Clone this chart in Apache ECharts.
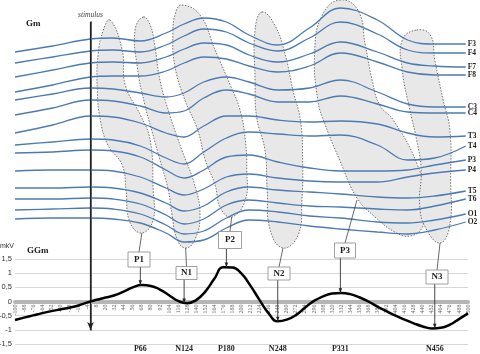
<!DOCTYPE html>
<html><head><meta charset="utf-8">
<script src="https://cdn.jsdelivr.net/npm/echarts@6/dist/echarts.min.js"></script>
<style>html,body{margin:0;padding:0;background:#fff}#c{width:480px;height:354px}</style>
</head><body><div id="c"></div>
<script>
// ---------- GGm (bottom panel) ----------
const timeLabels = ['-100','-88','-76','-64','-52','-40','-28','-16','-4','8','20','32','44','56','68','80','92','104','116','128','140','152','164','176','188','200','212','224','236','248','260','272','284','296','308','320','332','344','356','368','380','392','404','416','428','440','452','464','476','488','500'];
const ggm = [-0.65,-0.57,-0.49,-0.41,-0.34,-0.28,-0.22,-0.14,-0.03,0.06,0.14,0.22,0.35,0.50,0.58,0.55,0.42,0.22,0.02,-0.06,0.05,0.35,0.80,1.21,1.20,0.98,0.55,0.05,-0.42,-0.70,-0.64,-0.48,-0.22,0.02,0.18,0.28,0.30,0.26,0.15,0.00,-0.18,-0.34,-0.50,-0.64,-0.77,-0.88,-0.95,-0.93,-0.82,-0.62,-0.42];
const yTicks = {min:-1.5, max:1.5, step:0.5};

// ---------- Gm traces (top panel), depth units from top ----------
const channelNames = ['F3','F4','F7','F8','C3','C4','T3','T4','P3','P4','T5','T6','O1','O2'];
const traceTimes = [-100,-50,0,30,66,100,124,150,180,210,248,290,331,380,420,456,497];
const F3 = [52,46,39,38,41,33,24,18,22,35,45,28,8,20,40,44,44];
const F4 = [63,57,51,50,52,45,36,29,32,43,51,38,22,34,50,53,53];
const F7 = [77,70,63,62,63,57,49,43,45,55,62,54,42,52,63,66,67];
const F8 = [92,85,77,76,76,71,63,57,59,66,72,66,53,62,72,75,75];
const C3 = [100,94,88,89,93,97,93,82,77,82,90,88,80,92,104,107,107];
const C4 = [115,108,100,101,106,113,111,98,90,94,102,102,96,104,112,113,113];
const T3 = [133,125,116,117,123,133,137,126,116,116,120,122,121,124,133,137,136];
const T4 = [145,142,139,140,146,158,164,152,138,132,134,136,135,145,160,158,146];
const P3 = [153,152,150,151,157,170,178,170,157,155,162,168,171,171,170,165,160];
const P4 = [171,170,170,171,177,188,195,189,177,174,178,181,182,182,177,173,170];
const T5 = [188,188,187,188,193,203,211,206,192,187,190,192,194,197,198,196,191];
const T6 = [199,199,198,199,204,215,224,219,205,200,203,206,207,209,210,206,199];
const O1 = [210,209,208,209,214,225,234,231,218,210,212,216,218,222,223,220,214];
const O2 = [219,218,218,219,223,233,242,240,228,220,222,226,229,232,234,230,222];
const traces = [F3,F4,F7,F8,C3,C4,T3,T4,P3,P4,T5,T6,O1,O2];

// ---------- components (peaks) ----------
const peakNames = ['P1','N1','P2','N2','P3','N3'];
const peakLabels = ['P66','N124','P180','N248','P331','N456'];
const peakTimes = [66,124,180,248,331,456];
const peakValues = [0.58,-0.06,1.21,-0.70,0.30,-0.95];

// component regions (time, depth) outlines
const blobP1 = [[26,20],[42,50],[46,85],[66,115],[79,140],[83,190],[83,220],[68,233],[52,222],[47,190],[42,165],[23,145],[13,120],[9,90],[10,55],[17,30]];
const blobN1 = [[70,17],[79,25],[85,45],[92,80],[105,115],[121,150],[138,185],[145,215],[138,240],[126,248],[115,240],[108,215],[103,190],[92,160],[81,130],[72,105],[62,67],[59,30]];
const blobP2 = [[121,5],[145,15],[165,50],[185,85],[198,110],[205,140],[207,170],[205,200],[187,217],[172,208],[165,185],[152,160],[142,130],[125,100],[112,67],[109,35],[113,12]];
const blobN2 = [[227,12],[244,25],[258,55],[268,90],[278,120],[281,160],[280,200],[275,235],[255,248],[238,230],[234,190],[231,150],[220,117],[218,80],[218,30]];
const blobP3 = [[330,0],[354,10],[364,45],[373,80],[383,105],[401,120],[432,163],[446,205],[439,228],[423,236],[403,232],[377,217],[353,198],[330,160],[311,125],[301,100],[297,50],[307,15]];
const blobN3 = [[432,30],[450,35],[456,60],[467,100],[476,130],[477,180],[476,225],[463,243],[444,228],[436,205],[438,170],[432,140],[423,110],[413,70],[413,40]];
const blobs = [blobP1,blobN1,blobP2,blobN2,blobP3,blobN3];
const blobAnchors = [[68,233],[126,248],[187,217],[255,248],[353,200],[463,243]];

// layout (pixels) for callout boxes: cx, cy, w, h
const boxLayout = [[139,259.5,22,15],[186.5,273,21,13],[230,240,23,17],[279,273.5,22,13],[345,250.5,21,15],[437,277,22,14]];

const SERIF = '"Liberation Serif","DejaVu Serif",serif';
const chart = echarts.init(document.getElementById('c'), null, {renderer:'canvas'});

const series = [];
series.push({
  type:'custom', xAxisIndex:0, yAxisIndex:0, clip:false, z:1, silent:true,
  data: blobs.map(b => [b[0][0], b[0][1]]),
  renderItem: (params, api) => {
    const pts = blobs[params.dataIndex].map(p => api.coord(p));
    return {type:'polygon', shape:{points:pts, smooth:0.45},
      style:{fill:'#e8e8e8', stroke:'#3a3a3a', lineWidth:0.7, lineDash:[1.5,1.5]}};
  }
});
traces.forEach((arr, k) => {
  const s = {
    name: channelNames[k], type:'line', xAxisIndex:0, yAxisIndex:0, clip:false, z:3,
    data: traceTimes.map((t,i) => [t, arr[i]]),
    smooth:0.4, symbol:'none', silent:true,
    lineStyle:{color:'#4c7ab3', width:1.3},
    endLabel:{show:true, formatter: p => p.seriesName, fontFamily:SERIF, fontWeight:'bold', fontSize:7.5, color:'#222', distance:2}
  };
  if (k === 0) {
    s.markLine = {
      silent:true, symbol:['none','arrow'], symbolSize:[5,8],
      lineStyle:{color:'#222', width:1.2, type:'solid'},
      label:{show:true, position:'start', formatter:'stimulus', fontFamily:SERIF, fontStyle:'italic', fontSize:7.5, color:'#444', distance:3},
      data:[[{coord:[0,22]},{coord:[0,330]}]]
    };
  }
  series.push(s);
});
series.push({
  name:'GGm', type:'line', xAxisIndex:1, yAxisIndex:1, data:ggm, smooth:true, symbol:'none', z:5, silent:true,
  lineStyle:{color:'#000', width:2.5}
});

const GRID2 = {left:15, right:12, top:259, bottom:10};
const gridH = 354 - GRID2.top - GRID2.bottom;
const zeroOffset = -gridH * (0 - yTicks.min) / (yTicks.max - yTicks.min);

const option = {
  animation:false,
  backgroundColor:'#fff',
  grid:[{left:15,right:12,top:22,bottom:24,outerBoundsMode:'none',containLabel:false},
        Object.assign({outerBoundsMode:'none',containLabel:false}, GRID2)],
  xAxis:[
    {type:'value', gridIndex:0, min:-100, max:500, show:false},
    {type:'category', gridIndex:1, data:timeLabels, boundaryGap:false, position:'bottom', offset:zeroOffset,
     axisLine:{onZero:false, lineStyle:{color:'#b5b5b5', width:4, type:[1,1]}},
     axisTick:{show:false},
     axisLabel:{interval:0, rotate:90, fontSize:6, color:'#666', margin:3, fontFamily:SERIF, hideOverlap:false},
     splitLine:{show:false}}
  ],
  yAxis:[
    {type:'value', gridIndex:0, min:22, max:330, inverse:true,
     axisLine:{show:true, lineStyle:{color:'#333', width:1.5}}, axisTick:{show:false}, axisLabel:{show:false}, splitLine:{show:false}},
    {type:'value', gridIndex:1, min:yTicks.min, max:yTicks.max, interval:yTicks.step,
     axisLine:{show:false}, axisTick:{show:false},
     axisLabel:{fontSize:7.5, color:'#333', margin:3, fontFamily:'"Liberation Sans",Arial,sans-serif', formatter: v => String(v).replace('.', ',')},
     splitLine:{lineStyle:{color:'#d6d6d6', width:1}}}
  ],
  series: series
};
chart.setOption(option);

// ---------- callouts and labels through the axes ----------
const X = t => chart.convertToPixel({xAxisIndex:0}, t);
const Yt = v => chart.convertToPixel({yAxisIndex:0}, v);
const Yb = v => chart.convertToPixel({yAxisIndex:1}, v);
function arrowHead(x1,y1,x2,y2,size){
  const a = Math.atan2(y2-y1, x2-x1);
  return {type:'polygon', z:100, silent:true,
    shape:{points:[[x2,y2],[x2-size*Math.cos(a-0.35), y2-size*Math.sin(a-0.35)],[x2-size*Math.cos(a+0.35), y2-size*Math.sin(a+0.35)]]},
    style:{fill:'#222'}};
}
const els = [];
peakNames.forEach((nm, i) => {
  const [cx, cy, w, h] = boxLayout[i];
  const ax = X(blobAnchors[i][0]), ay = Yt(blobAnchors[i][1]);
  els.push({type:'line', z:99, silent:true, shape:{x1:ax, y1:ay, x2:cx, y2:cy-h/2}, style:{stroke:'#444', lineWidth:0.8}});
  const px = X(peakTimes[i]), py = Yb(peakValues[i]);
  const sx = Math.min(Math.max(px, cx-w/2+3), cx+w/2-3), sy = cy+h/2;
  els.push({type:'line', z:99, silent:true, shape:{x1:sx, y1:sy, x2:px, y2:py}, style:{stroke:'#333', lineWidth:0.9}});
  els.push(arrowHead(sx, sy, px, py, 5));
  els.push({type:'rect', z:100, silent:true, shape:{x:cx-w/2, y:cy-h/2, width:w, height:h}, style:{fill:'#fff', stroke:'#888', lineWidth:0.8}});
  els.push({type:'text', z:101, silent:true, x:cx, y:cy, style:{text:nm, font:'bold 9px '+SERIF, fill:'#222', align:'center', verticalAlign:'middle'}});
  els.push({type:'text', z:101, silent:true, x:px, y:349, style:{text:peakLabels[i], font:'bold 8px '+SERIF, fill:'#222', align:'center', verticalAlign:'middle'}});
});
els.push({type:'text', z:101, silent:true, x:26, y:24, style:{text:'Gm', font:'bold 9px '+SERIF, fill:'#222', align:'left', verticalAlign:'middle'}});
els.push({type:'text', z:101, silent:true, x:27, y:251, style:{text:'GGm', font:'bold 9px '+SERIF, fill:'#222', align:'left', verticalAlign:'middle'}});
els.push({type:'text', z:101, silent:true, x:0, y:246, style:{text:'mkV', font:'7px "Liberation Sans",Arial,sans-serif', fill:'#333', align:'left', verticalAlign:'middle'}});
chart.setOption({graphic:{elements:els}});
</script></body></html>
